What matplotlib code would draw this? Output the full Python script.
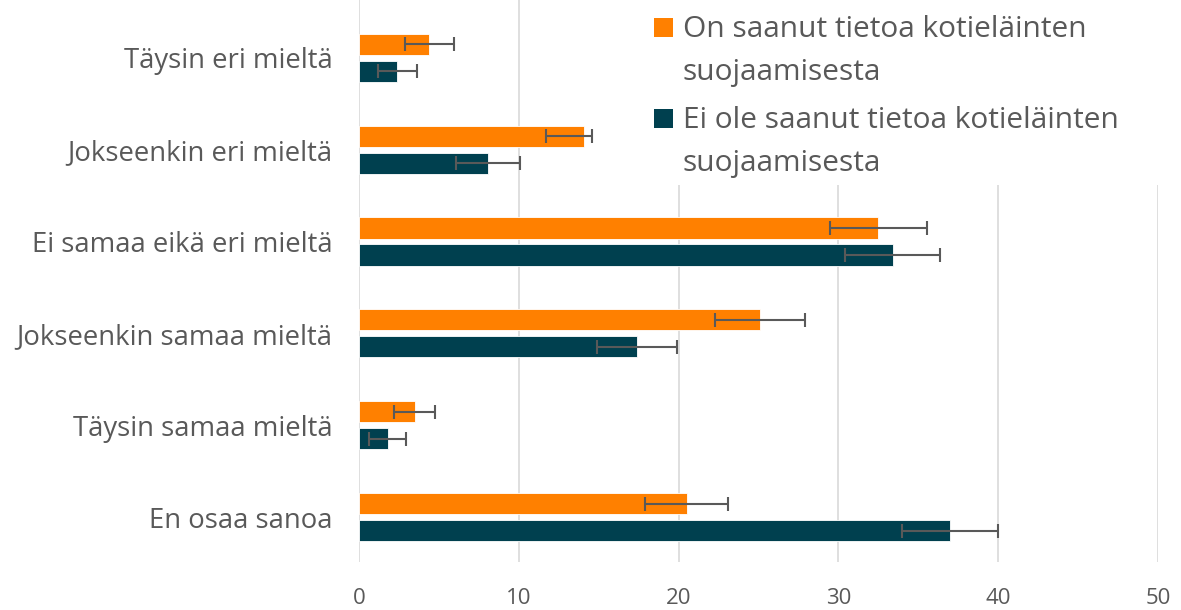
import numpy as np
import matplotlib
matplotlib.use("Agg")
import matplotlib.pyplot as plt
from matplotlib.patches import Rectangle

plt.rcParams["font.family"] = ["Open Sans", "DejaVu Sans"]

# -------------------------------
# Data
# -------------------------------
categories = [
    "Täysin eri mieltä",
    "Jokseenkin eri mieltä",
    "Ei samaa eikä eri mieltä",
    "Jokseenkin samaa mieltä",
    "Täysin samaa mieltä",
    "En osaa sanoa",
]

series_names = [
    "On saanut tietoa kotieläinten\nsuojaamisesta",
    "Ei ole saanut tietoa kotieläinten\nsuojaamisesta",
]

informed = [4.4, 14.1, 32.5, 25.1, 3.5, 20.5]
informed_err_low = [1.55, 2.4, 3.0, 2.8, 1.3, 2.6]
informed_err_high = [1.55, 0.45, 3.05, 2.8, 1.25, 2.6]

not_informed = [2.4, 8.1, 33.4, 17.4, 1.8, 37.0]
not_informed_err_low = [1.2, 2.0, 3.0, 2.5, 1.15, 3.0]
not_informed_err_high = [1.2, 2.0, 2.95, 2.5, 1.15, 3.0]

colors = ["#FF8000", "#00404F"]
text_color = "#595959"

# -------------------------------
# Chart
# -------------------------------
W, H = 1181, 610
fig = plt.figure(figsize=(W / 100, H / 100), dpi=100)
ax = fig.add_axes([359 / W, 1 - 562 / H, 799 / W, 562 / H])

y = np.arange(len(categories))
bar_h = 0.23
offset = 0.147

ax.barh(y - offset, informed, height=bar_h, color=colors[0],
        edgecolor="white", linewidth=0.6, zorder=2)
ax.barh(y + offset, not_informed, height=bar_h, color=colors[1],
        edgecolor="white", linewidth=0.6, zorder=2)

ax.errorbar(informed, y - offset, xerr=[informed_err_low, informed_err_high],
            fmt="none", ecolor=text_color, elinewidth=1.5, capsize=5,
            capthick=1.5, zorder=3)
ax.errorbar(not_informed, y + offset,
            xerr=[not_informed_err_low, not_informed_err_high],
            fmt="none", ecolor=text_color, elinewidth=1.5, capsize=5,
            capthick=1.5, zorder=3)

ax.set_xlim(0, 50)
ax.set_xticks(range(0, 51, 10))
ax.set_ylim(5.49, -0.63)
ax.set_yticks(y)
ax.set_yticklabels(categories, fontsize=19.8, color=text_color)

ax.tick_params(axis="x", labelsize=16, colors=text_color, length=0, pad=19)
ax.tick_params(axis="y", length=0, pad=19)

ax.grid(axis="x", color="#d9d9d9", linewidth=1.2, zorder=0)
ax.set_axisbelow(True)
for side in ax.spines:
    ax.spines[side].set_visible(False)

# -------------------------------
# Legend (white box over the gridlines)
# -------------------------------
fig.patches.append(Rectangle((645 / W, 1 - 185 / H), 525 / W, 185 / H,
                             transform=fig.transFigure, facecolor="white",
                             edgecolor="none", zorder=5))

entry_base = [37, 128]    # baseline of each entry's first line, px from top
line_step = 43
for name, color, base in zip(series_names, colors, entry_base):
    fig.patches.append(Rectangle((654 / W, 1 - base / H), 19 / W, 19 / H,
                                 transform=fig.transFigure, facecolor=color,
                                 edgecolor="none", zorder=6))
    for i, line in enumerate(name.split("\n")):
        fig.text(683 / W, 1 - (base + i * line_step) / H, line,
                 fontsize=21.5, color=text_color, va="baseline", ha="left",
                 zorder=7)

fig.savefig("out.png", dpi=100, facecolor="white")
